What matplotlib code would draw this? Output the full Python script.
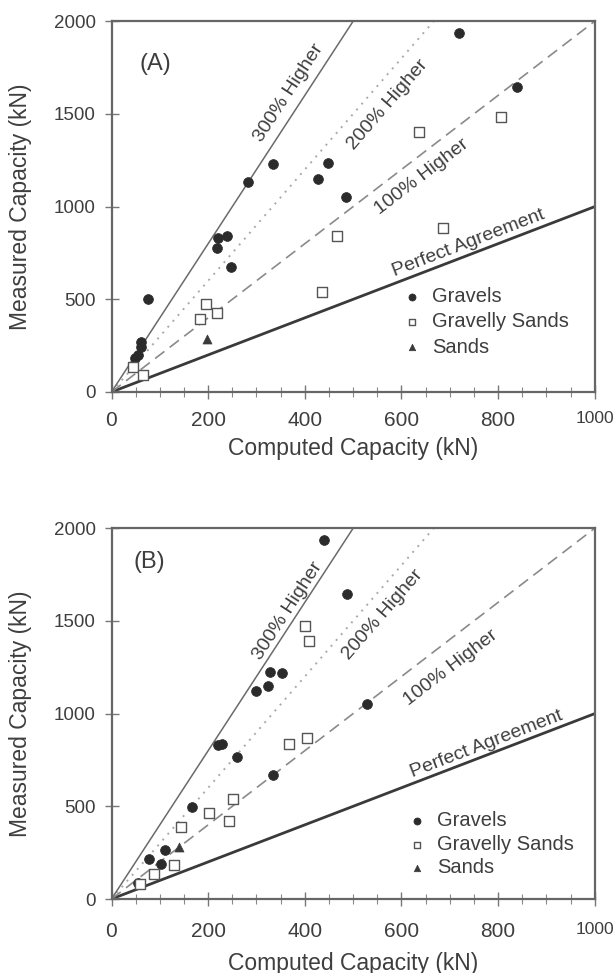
import matplotlib
matplotlib.use('Agg')
import matplotlib.pyplot as plt
import numpy as np
from matplotlib.ticker import MultipleLocator

plt.rcParams['font.family'] = ['Liberation Sans', 'DejaVu Sans']

# ---------------- data ----------------
# Panel A
a_gravels_x = [76, 221, 238, 218, 247, 62, 62, 55, 48, 335, 282, 447, 427, 485, 720, 840]
a_gravels_y = [502, 832, 841, 775, 676, 271, 244, 200, 182, 1228, 1130, 1234, 1151, 1054, 1938, 1647]
a_gsands_x = [196, 183, 219, 45, 66, 636, 806, 686, 467, 436]
a_gsands_y = [473, 392, 424, 137, 92, 1402, 1482, 883, 841, 539]
a_sands_x = [198]
a_sands_y = [284]

# Panel B
b_gravels_x = [440, 487, 327, 353, 324, 299, 528, 221, 228, 259, 335, 167, 111, 78, 102, 55]
b_gravels_y = [1936, 1647, 1226, 1217, 1149, 1122, 1050, 829, 834, 768, 669, 496, 264, 214, 187, 88]
b_gsands_x = [400, 409, 367, 404, 252, 202, 244, 144, 129, 87, 60]
b_gsands_y = [1473, 1392, 834, 870, 538, 466, 421, 388, 183, 137, 82]
b_sands_x = [140]
b_sands_y = [282]

# reference lines: measured = factor * computed
line_factors = [1, 2, 3, 4]
line_labels = ['Perfect Agreement', '100% Higher', '200% Higher', '300% Higher']

x_ticks = [0, 200, 400, 600, 800, 1000]
x_tick_labels = ['0', '200', '400', '600', '800', '1000']
y_ticks = [0, 500, 1000, 1500, 2000]

series_names = ['Gravels', 'Gravelly Sands', 'Sands']

TXT = '#3e3e3e'
SPINE = '#666666'

line_styles = {
    1: dict(color='#3a3a3a', lw=2.0, ls='-'),
    2: dict(color='#8a8a8a', lw=1.2, ls=(0, (7, 4))),
    3: dict(color='#aaaaaa', lw=1.4, ls=(0, (1, 3))),
    4: dict(color='#6a6a6a', lw=1.1, ls='-'),
}

fig = plt.figure(figsize=(6.15, 9.73), dpi=100)
W, H = 615.0, 973.0
axA = fig.add_axes([111.5 / W, 1 - 392 / H, 483.3 / W, 370.8 / H])
axB = fig.add_axes([111.5 / W, 1 - 899 / H, 483.3 / W, 370.8 / H])


def line_label(ax, m, xpos, text, off_pt):
    p0 = ax.transData.transform((0, 0))
    p1 = ax.transData.transform((1000, 1000 * m))
    ang = np.degrees(np.arctan2(p1[1] - p0[1], p1[0] - p0[0]))
    th = np.radians(ang)
    dx, dy = -np.sin(th) * off_pt, np.cos(th) * off_pt
    ax.annotate(text, (xpos, m * xpos), xytext=(dx, dy), textcoords='offset points',
                rotation=ang, rotation_mode='anchor', ha='center', va='center',
                fontsize=14, color=TXT, annotation_clip=False)


def setup(ax, gx, gy, sx, sy, tx, ty, panel, ppos, label_pos, leg_anchor, leg_spacing,
          xlab_y, xpad):
    ax.set_xlim(0, 1000)
    ax.set_ylim(0, 2000)
    xs = np.array([0, 1000])
    for m in line_factors:
        ax.plot(xs, m * xs, zorder=1, **line_styles[m])
    ax.scatter(gx, gy, s=50, marker='o', facecolor='#2b2b2b', edgecolor='#2b2b2b',
               linewidths=0.5, zorder=3, label=series_names[0])
    ax.scatter(sx, sy, s=46, marker='s', facecolor='white', edgecolor='#555555',
               linewidths=1.0, zorder=3, label=series_names[1])
    ax.scatter(tx, ty, s=42, marker='^', facecolor='#3a3a3a', edgecolor='#3a3a3a',
               linewidths=0.5, zorder=3, label=series_names[2])

    for (m, lbl), (xp, off) in zip(zip(line_factors, line_labels), label_pos):
        line_label(ax, m, xp, lbl, off)

    ax.text(ppos[0], ppos[1], panel, ha='center', va='center', fontsize=17, color=TXT)

    ax.set_xticks(x_ticks, labels=x_tick_labels)
    ax.set_yticks(y_ticks)
    ax.xaxis.set_minor_locator(MultipleLocator(50))
    ax.tick_params(axis='both', which='major', direction='inout', length=10, width=1.0,
                   color='#777777', labelcolor=TXT)
    ax.tick_params(axis='x', which='minor', direction='inout', length=7, width=0.8,
                   color='#888888')
    ax.tick_params(axis='x', which='major', labelsize=15, pad=xpad)
    ax.tick_params(axis='y', which='major', labelsize=13.5, pad=6.5)
    ax.get_xticklabels()[-1].set_fontsize(12.5)
    for sp in ax.spines.values():
        sp.set_color(SPINE)
        sp.set_linewidth(1.6)

    ax.set_xlabel('Computed Capacity (kN)', fontsize=16.5, color=TXT)
    ax.set_ylabel('Measured Capacity (kN)', fontsize=16.5, color=TXT)
    ax.xaxis.set_label_coords(0.5, xlab_y)
    ax.yaxis.set_label_coords(-0.165, 0.5)

    leg = ax.legend(loc='upper left', bbox_to_anchor=leg_anchor, frameon=False,
                    fontsize=14.5, handletextpad=0.5, labelspacing=leg_spacing,
                    handlelength=1.0, borderaxespad=0, borderpad=0, markerscale=0.72)
    for t in leg.get_texts():
        t.set_color(TXT)


setup(axA, a_gravels_x, a_gravels_y, a_gsands_x, a_gsands_y, a_sands_x, a_sands_y,
      '(A)', (90, 1769),
      [(747, 8.4), (620, -13.1), (540, -14.8), (393, 10.7)],
      (0.601, 0.282), 0.30, -0.122, 9.0)
setup(axB, b_gravels_x, b_gravels_y, b_gsands_x, b_gsands_y, b_sands_x, b_sands_y,
      '(B)', (78, 1818),
      [(784, 7.6), (673, -16.9), (533, -13.2), (381, 7.1)],
      (0.611, 0.236), 0.22, -0.142, 11.5)

fig.savefig('out.png', dpi=100, facecolor='white')
